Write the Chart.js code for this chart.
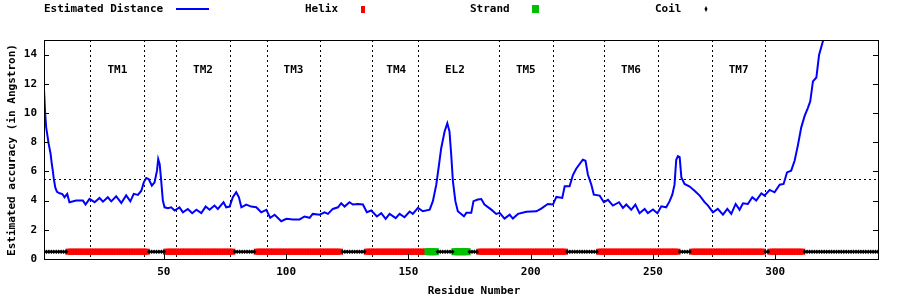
<!DOCTYPE html>
<html>
<head>
<meta charset="utf-8">
<script src="https://cdn.jsdelivr.net/npm/chart.js@4.4.1/dist/chart.umd.min.js"></script>
<style>
  html, body { margin: 0; padding: 0; background: #fff; }
  canvas { display: block; }
</style>
</head>
<body>
<canvas id="chart" width="900" height="300"></canvas>
<script>
// estimated distance curve (residue, angstrom)
const distResidue = [
  1.0, 1.5, 1.9, 2.9, 3.7, 4.2, 4.6, 5.0, 5.6, 6.3, 7.4, 8.5, 9.4, 10.5, 11.4, 14.2, 16.9, 18.0, 19.6, 21.7,
  23.7, 25.1, 27.1, 28.5, 30.5, 32.6, 34.6, 36.3, 37.7, 39.4, 40.8, 41.8, 42.8, 43.8, 45.1, 46.2, 47.2, 47.7, 48.3, 48.8,
  49.6, 50.3, 51.7, 53.0, 54.4, 56.4, 57.8, 59.8, 61.6, 63.3, 65.3, 67.1, 68.7, 70.7, 72.1, 74.4, 75.5, 76.9, 78.2, 79.6,
  80.7, 81.7, 83.7, 85.7, 87.8, 89.8, 91.9, 93.5, 95.3, 98.0, 100.1, 102.8, 105.5, 107.5, 109.6, 110.9, 113.7, 115.7, 117.1, 119.1,
  121.2, 122.5, 123.9, 125.9, 127.3, 129.3, 131.4, 133.0, 134.8, 137.1, 138.9, 140.7, 142.3, 144.8, 146.4, 148.4, 150.5, 151.8, 153.9, 155.9,
  158.7, 160.0, 161.4, 162.5, 163.4, 164.8, 165.9, 166.8, 167.5, 168.2, 169.2, 170.2, 172.7, 173.7, 175.7, 176.6, 178.4, 179.8, 181.1, 183.9,
  185.9, 187.3, 189.3, 191.4, 192.7, 194.8, 198.2, 202.3, 204.3, 207.0, 209.1, 210.5, 212.9, 213.9, 215.9, 217.3, 218.6, 221.3, 222.4, 223.4,
  224.8, 225.8, 228.2, 229.9, 231.6, 233.6, 236.1, 237.7, 239.1, 241.1, 242.8, 244.5, 246.6, 247.9, 250.0, 251.8, 253.4, 255.4, 256.8, 257.9,
  258.8, 259.5, 260.2, 260.9, 261.6, 262.9, 265.0, 267.0, 269.1, 271.1, 272.5, 274.5, 276.5, 278.6, 280.4, 282.0, 283.8, 285.4, 286.8, 288.8,
  290.6, 292.2, 294.3, 295.6, 297.7, 299.7, 301.8, 303.4, 304.8, 306.5, 307.9, 309.2, 310.6, 312.0, 313.3, 314.3, 315.4, 316.8, 317.9, 319.5,
  321.0
];
const distValue = [
  11.6, 9.9, 9.0, 7.9, 7.2, 6.5, 6.05, 5.5, 4.9, 4.6, 4.5, 4.45, 4.23, 4.46, 3.89, 4.0, 4.0, 3.73, 4.12, 3.89,
  4.18, 3.93, 4.23, 3.95, 4.3, 3.84, 4.36, 3.95, 4.46, 4.39, 4.68, 5.25, 5.55, 5.48, 5.02, 5.25, 6.05, 6.84, 6.5, 5.59,
  4.0, 3.54, 3.48, 3.54, 3.32, 3.54, 3.2, 3.43, 3.14, 3.37, 3.14, 3.59, 3.37, 3.66, 3.43, 3.89, 3.54, 3.59, 4.23, 4.57,
  4.23, 3.54, 3.73, 3.59, 3.54, 3.2, 3.37, 2.82, 3.03, 2.59, 2.75, 2.71, 2.71, 2.91, 2.82, 3.09, 3.03, 3.2, 3.09, 3.43,
  3.54, 3.82, 3.59, 3.89, 3.73, 3.77, 3.73, 3.2, 3.32, 2.91, 3.14, 2.75, 3.09, 2.8, 3.09, 2.86, 3.25, 3.09, 3.5, 3.27,
  3.38, 3.96, 5.09, 6.45, 7.59, 8.73, 9.3, 8.73, 7.14, 5.32, 3.96, 3.27, 2.93, 3.16, 3.16, 3.96, 4.07, 4.11, 3.73, 3.38,
  3.09, 3.16, 2.77, 3.04, 2.77, 3.09, 3.23, 3.27, 3.45, 3.77, 3.73, 4.25, 4.18, 4.98, 4.98, 5.77, 6.18, 6.8, 6.73, 5.77,
  5.09, 4.41, 4.34, 3.89, 4.05, 3.66, 3.89, 3.5, 3.73, 3.37, 3.73, 3.14, 3.43, 3.14, 3.39, 3.14, 3.61, 3.54, 3.96, 4.41,
  5.09, 6.8, 7.05, 6.98, 5.59, 5.14, 4.96, 4.68, 4.34, 3.89, 3.66, 3.2, 3.43, 3.04, 3.43, 3.09, 3.77, 3.37, 3.82, 3.77,
  4.23, 4.0, 4.5, 4.34, 4.73, 4.57, 5.09, 5.14, 5.93, 6.05, 6.73, 7.75, 9.0, 9.8, 10.34, 10.8, 12.16, 12.43, 13.98, 14.93,
  15.6
];

// secondary structure, residue ranges
const helixRanges = [[11, 43], [51, 78], [88, 122], [133, 157], [179, 214], [228, 260], [266, 295], [298, 311]];
const strandRanges = [[158, 161], [169, 174]];
const residueCount = 342;
const ssLevel = 0.5;

// transmembrane segment borders and labels
const segmentBorders = [20, 42, 55, 77, 92, 114, 135, 154, 187, 209, 230, 252, 274, 296];
const segmentNames = ['TM1', 'TM2', 'TM3', 'TM4', 'EL2', 'TM5', 'TM6', 'TM7'];
const segmentCenters = [31, 66, 103, 145, 169, 198, 241, 285];
const cutoffLine = 5.5;

const xTicks = [50, 100, 150, 200, 250, 300];
const yTicks = [0, 2, 4, 6, 8, 10, 12, 14];

const FONT = '"DejaVu Sans Mono", "Liberation Mono", monospace';

function inRanges(r, ranges) {
  return ranges.some(([a, b]) => r >= a && r <= b);
}

const helixPts = [], strandPts = [], coilPts = [];
for (let r = 1; r <= residueCount; r++) {
  if (inRanges(r, helixRanges)) helixPts.push({ x: r, y: ssLevel });
  else if (inRanges(r, strandRanges)) strandPts.push({ x: r, y: ssLevel });
  else coilPts.push({ x: r, y: ssLevel });
}

const distPts = distResidue.map((r, i) => ({ x: r, y: distValue[i] }));

const decorPlugin = {
  id: 'decor',
  beforeDatasetsDraw(chart) {
    const { ctx, chartArea: a, scales: { x, y } } = chart;
    ctx.save();
    ctx.strokeStyle = '#000';
    ctx.lineWidth = 1;
    ctx.setLineDash([2, 3]);
    segmentBorders.forEach(r => {
      const px = Math.round(x.getPixelForValue(r)) + 0.5;
      ctx.beginPath();
      ctx.moveTo(px, a.top);
      ctx.lineTo(px, a.bottom);
      ctx.stroke();
    });
    const py = Math.round(y.getPixelForValue(cutoffLine)) + 0.5;
    ctx.beginPath();
    ctx.moveTo(a.left, py);
    ctx.lineTo(a.right, py);
    ctx.stroke();
    ctx.setLineDash([]);

    ctx.fillStyle = '#000';
    ctx.font = 'bold 11px ' + FONT;
    ctx.textAlign = 'center';
    ctx.textBaseline = 'middle';
    segmentNames.forEach((name, i) => {
      ctx.fillText(name, x.getPixelForValue(segmentCenters[i]), 70);
    });
    ctx.restore();
  },
  afterDraw(chart) {
    const { ctx, chartArea: a, scales: { x, y } } = chart;
    ctx.save();
    ctx.strokeStyle = '#000';
    ctx.lineWidth = 1;
    ctx.strokeRect(a.left + 0.5, a.top + 0.5, a.right - a.left, a.bottom - a.top);
    // inward tick marks
    ctx.beginPath();
    yTicks.forEach(v => {
      if (v === 0) return;
      const py = Math.round(y.getPixelForValue(v)) + 0.5;
      ctx.moveTo(a.left, py); ctx.lineTo(a.left + 5, py);
      ctx.moveTo(a.right, py); ctx.lineTo(a.right - 5, py);
    });
    xTicks.forEach(v => {
      const px = Math.round(x.getPixelForValue(v)) + 0.5;
      ctx.moveTo(px, a.bottom); ctx.lineTo(px, a.bottom - 5);
    });
    ctx.stroke();

    ctx.fillStyle = '#000';
    ctx.font = 'bold 11px ' + FONT;
    ctx.textBaseline = 'middle';
    ctx.textAlign = 'center';
    ctx.fillText('Residue Number', 474, 291);
    ctx.save();
    ctx.translate(12, 150);
    ctx.rotate(-Math.PI / 2);
    ctx.fillText('Estimated accuracy (in Angstron)', 0, 0);
    ctx.restore();

    // legend row
    ctx.textAlign = 'left';
    ctx.fillText('Estimated Distance', 44, 9);
    ctx.strokeStyle = '#0000ff';
    ctx.lineWidth = 2;
    ctx.beginPath();
    ctx.moveTo(176, 9); ctx.lineTo(209, 9);
    ctx.stroke();
    ctx.fillText('Helix', 305, 9);
    ctx.fillStyle = '#ff0000';
    ctx.fillRect(361, 6, 4, 7);
    ctx.fillStyle = '#000';
    ctx.fillText('Strand', 470, 9);
    ctx.fillStyle = '#00c000';
    ctx.fillRect(532, 5, 7, 8);
    ctx.fillStyle = '#000';
    ctx.fillText('Coil', 655, 9);
    ctx.beginPath();
    ctx.moveTo(706, 6); ctx.lineTo(707.5, 9); ctx.lineTo(706, 12); ctx.lineTo(704.5, 9);
    ctx.closePath();
    ctx.fill();
    ctx.restore();
  }
};

const tickFont = { family: FONT, size: 11, weight: 'bold' };

new Chart(document.getElementById('chart'), {
  type: 'scatter',
  data: {
    datasets: [
      {
        label: 'Estimated Distance',
        data: distPts,
        showLine: true,
        borderColor: '#0000ff',
        borderWidth: 2,
        pointRadius: 0,
        tension: 0,
      },
      {
        label: 'Coil',
        data: coilPts,
        pointStyle: 'rectRot',
        pointRadius: 2.2,
        backgroundColor: '#000',
        borderWidth: 0,
      },
      {
        label: 'Strand',
        data: strandPts,
        pointStyle: 'rect',
        pointRadius: 5,
        backgroundColor: '#00c000',
        borderWidth: 0,
      },
      {
        label: 'Helix',
        data: helixPts,
        pointStyle: 'rect',
        pointRadius: 4.3,
        backgroundColor: '#ff0000',
        borderWidth: 0,
      },
    ],
  },
  options: {
    responsive: false,
    animation: false,
    devicePixelRatio: 1,
    layout: { padding: { top: 40, right: 22, left: 0, bottom: 0 } },
    plugins: {
      legend: { display: false },
      tooltip: { enabled: false },
    },
    scales: {
      x: {
        type: 'linear',
        min: 1,
        max: residueCount,
        grid: { display: false, drawTicks: false },
        border: { display: false },
        ticks: { color: '#000', font: tickFont, padding: 7, maxRotation: 0, autoSkip: false },
        afterBuildTicks: s => { s.ticks = xTicks.map(v => ({ value: v })); },
        afterFit: s => { s.height = 41; },
      },
      y: {
        min: 0,
        max: 15,
        grid: { display: false, drawTicks: false },
        border: { display: false },
        ticks: { color: '#000', font: tickFont, padding: 7 },
        afterBuildTicks: s => { s.ticks = yTicks.map(v => ({ value: v })); },
        afterFit: s => { s.width = 44; },
      },
    },
  },
  plugins: [decorPlugin],
});
</script>
</body>
</html>
